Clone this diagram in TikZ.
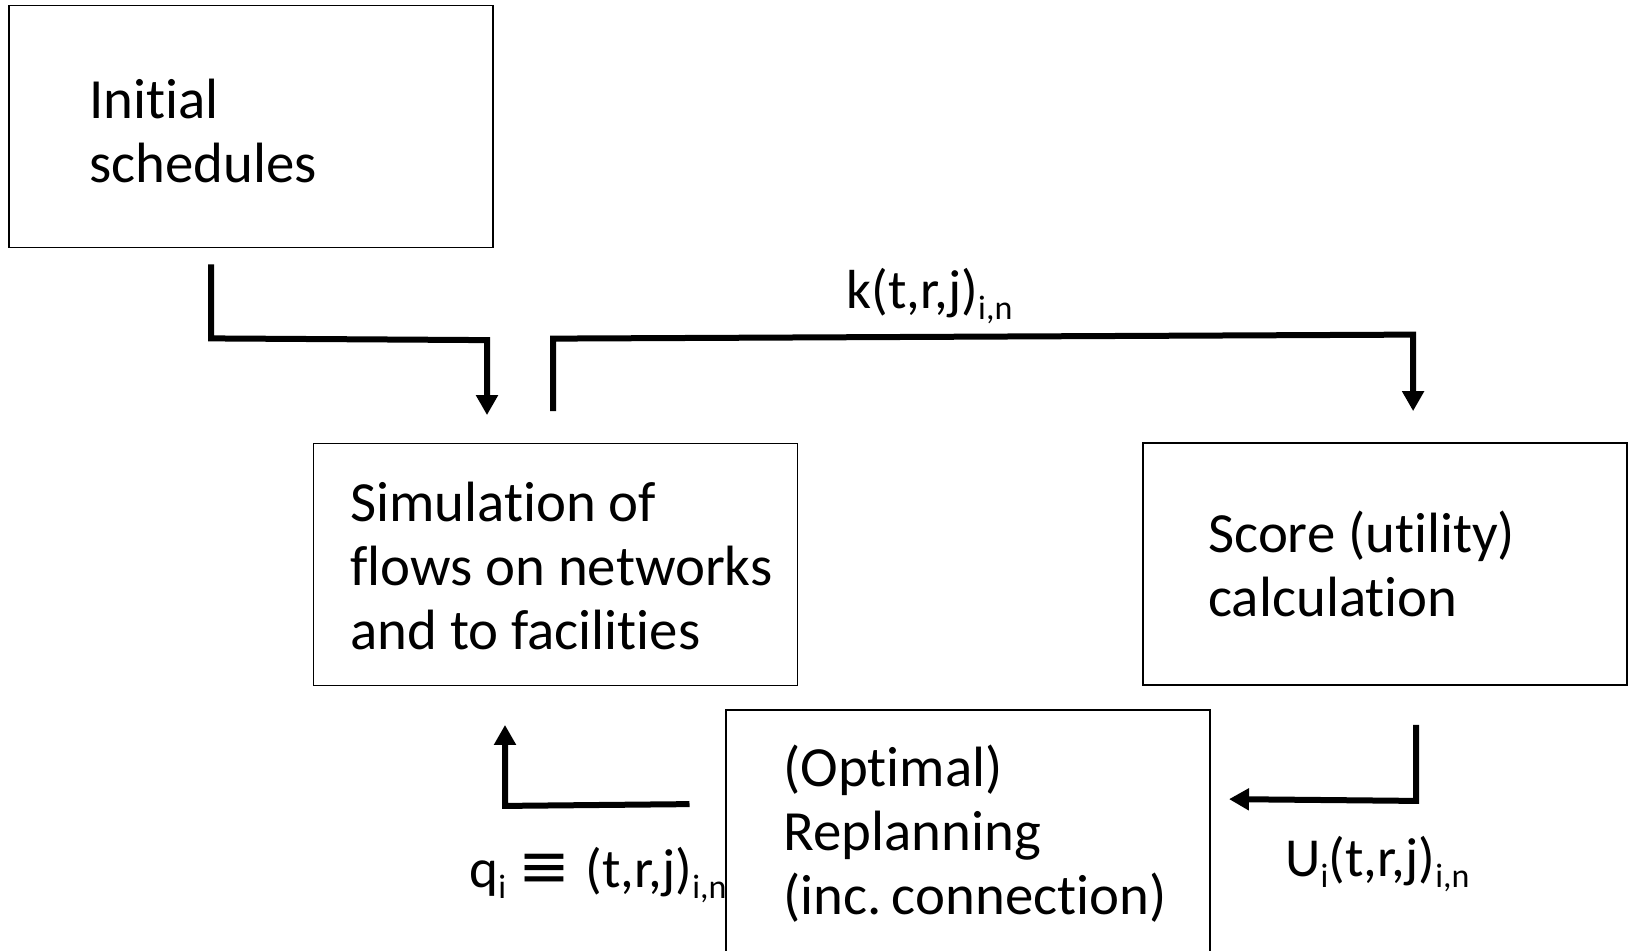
\documentclass[tikz,border=0pt]{standalone}
\usepackage{fontspec}
\setmainfont{Carlito}[Ligatures=NoCommon]
\newfontfamily\symfont{DejaVu Sans}
\usetikzlibrary{arrows.meta}
\newcommand\mysub[1]{\raisebox{-5.5pt}{\fontsize{17}{17}\selectfont #1}}
\begin{document}
\begin{tikzpicture}[x=0.5pt,y=-0.5pt,
  box/.style={draw, line width=0.9pt, minimum width=242pt, minimum height=121pt, inner sep=0},
  boxtext/.style={anchor=base west, inner sep=0, font=\fontsize{28.4}{32}\selectfont},
  lbl/.style={anchor=base west, inner sep=0, font=\fontsize{27.5}{30}\selectfont},
  conn/.style={line width=3pt},
  arr/.style={conn, -{Triangle[length=10pt,width=10.5pt]}}]
\useasboundingbox (0,0) rectangle (1628,950);
% boxes
\node[box] (init) at (251,126.5) {};
\node[box] (sim) at (555.5,564.4) {};
\node[box] (score) at (1385,564) {};
\node[box, minimum height=130pt] (repl) at (967.7,840) {};
% texts
\node[boxtext] (initT) at (89,118) {\begin{tabular}[t]{@{}l@{}}Initial\\schedules\end{tabular}};
\node[boxtext] (simT) at (350,521) {\begin{tabular}[t]{@{}l@{}}Simulation of\\flows on networks\\and to facilities\end{tabular}};
\node[boxtext] (scoreT) at (1208,552) {\begin{tabular}[t]{@{}l@{}}Score (utility)\\calculation\end{tabular}};
\node[boxtext] (replT) at (783,786) {\begin{tabular}[t]{@{}l@{}}(Optimal)\\Replanning\\(inc.\hspace{0.18em}connection)\end{tabular}};
% labels
\node[lbl] (klbl) at (846,308) {k(t,r,j)\mysub{i,n}};
\node[lbl] (ulbl) at (1285,876) {U\mysub{i}(t,r,j)\mysub{i,n}};
\node[lbl] (qlbl) at (469,887) {q\mysub{i}\hspace{0.22em}{\symfont\fontsize{31}{31}\selectfont ≡}\hspace{0.28em}(t,r,j)\mysub{i,n}};
% connector 1: initial -> simulation
\coordinate (a1s) at ([shift={(203,16)}]init.south west);
\coordinate (a1b) at ([shift={(203,90)}]init.south west);
\coordinate (a1c) at ([shift={(174.4,-102.4)}]sim.north west);
\coordinate (a1e) at ([shift={(174.4,-27.4)}]sim.north west);
\draw[arr] (a1s) -- (a1b) -- (a1c) -- (a1e);
% connector 2: simulation -> score
\coordinate (a2s) at ([shift={(240.4,-31.4)}]sim.north west);
\coordinate (a2b) at ([shift={(240.4,-103.9)}]sim.north west);
\coordinate (a2c) at ([shift={(271,-107.5)}]score.north west);
\coordinate (a2e) at ([shift={(271,-31)}]score.north west);
\draw[arr] (a2s) -- (a2b) -- (a2c) -- (a2e);
% connector 3: score -> replanning
\coordinate (a3s) at ([shift={(274,39)}]score.south west);
\coordinate (a3b) at ([shift={(274,115)}]score.south west);
\coordinate (a3e) at ([shift={(18.4,90)}]repl.north east);
\draw[arr] (a3s) -- (a3b) -- (a3e);
% connector 4: replanning -> simulation
\coordinate (a4s) at ([shift={(-35.3,95)}]repl.north west);
\coordinate (a4b) at ([shift={(192.4,119.6)}]sim.south west);
\coordinate (a4e) at ([shift={(192.4,38.6)}]sim.south west);
\draw[arr] (a4s) -- (a4b) -- (a4e);
\end{tikzpicture}
\end{document}
